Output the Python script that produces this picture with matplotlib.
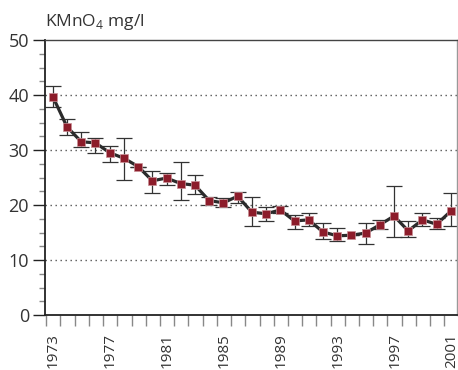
import numpy as np
import matplotlib as mpl
mpl.use('Agg')
import matplotlib.pyplot as plt
from matplotlib.ticker import MultipleLocator

plt.rcParams['font.family'] = ['Open Sans', 'DejaVu Sans']
plt.rcParams['mathtext.fontset'] = 'custom'
plt.rcParams['mathtext.rm'] = 'Open Sans'

# permanganate consumption, yearly means with ranges
years = list(range(1973, 2002))
values = [39.7, 34.2, 31.5, 31.3, 29.5, 28.5, 27.0, 24.4, 24.9, 23.9,
          23.6, 20.8, 20.4, 21.6, 18.7, 18.4, 19.1, 17.1, 17.3, 15.1,
          14.4, 14.5, 14.9, 16.4, 18.0, 15.3, 17.3, 16.5, 18.9]
upper = [41.6, 35.7, 33.3, 32.2, 30.8, 32.2, 27.0, 26.2, 25.8, 27.8,
         25.5, 21.5, 21.2, 22.4, 21.5, 19.7, 19.9, 18.1, 18.5, 16.7,
         15.8, 14.5, 16.8, 17.3, 23.5, 17.1, 18.5, 17.6, 22.2]
lower = [37.8, 32.7, 30.6, 29.5, 27.9, 24.5, 27.0, 22.1, 23.7, 21.0,
         22.0, 20.0, 19.6, 20.3, 16.2, 17.1, 18.5, 15.6, 16.1, 13.8,
         13.4, 14.5, 12.9, 15.6, 14.2, 14.1, 16.1, 15.6, 16.1]
label_years = [1973, 1977, 1981, 1985, 1989, 1993, 1997, 2001]

x = np.arange(len(years))
v = np.array(values)
yerr = [v - np.array(lower), np.array(upper) - v]

fig = plt.figure(figsize=(4.58, 3.70), dpi=100)
ax = fig.add_axes([45 / 458, 1 - 315 / 370, 412 / 458, 275 / 370])

for y in [10, 20, 30, 40]:
    ax.axhline(y, color='#555555', lw=1.0, ls=(0, (1, 2.6)), zorder=1)

ax.errorbar(x, v, yerr=yerr, fmt='none', ecolor='#333333', elinewidth=0.9,
            capsize=5.5, capthick=0.9, zorder=2)
ax.plot(x, v, color='#2b2b2b', lw=2.3, zorder=3)
ax.plot(x, v, ls='none', marker='s', ms=6.2, mfc='#8c1c2a',
        mec='#c98f95', mew=0.5, zorder=4)

ax.set_ylim(0, 50)
ax.set_xlim(-0.55, len(years) - 0.57)

ax.yaxis.set_major_locator(MultipleLocator(10))
ax.yaxis.set_minor_locator(MultipleLocator(2.5))
ax.tick_params(axis='y', which='major', length=8.5, width=1.0, color='#222222',
               labelsize=13, pad=3, labelcolor='#333333')
ax.tick_params(axis='y', which='minor', length=4.2, width=1.0, color='#888888')

# category boundaries carry the ticks, year labels sit on the points
ax.set_xticks(np.arange(len(years)) - 0.46)
ax.set_xticklabels([])
ax.set_xticks([years.index(yr) + 0.05 for yr in label_years], minor=True)
ax.set_xticklabels([str(yr) for yr in label_years], minor=True, rotation=90,
                   fontsize=11, color='#333333')
ax.tick_params(axis='x', which='major', length=8, width=1.0, color='#888888',
               direction='out', pad=0)
ax.tick_params(axis='x', which='minor', length=0, pad=13)

for side in ['left', 'bottom']:
    ax.spines[side].set_color('#222222')
    ax.spines[side].set_linewidth(1.3)
ax.spines['top'].set_color('#444444')
ax.spines['top'].set_linewidth(1.0)
ax.spines['right'].set_color('#999999')
ax.spines['right'].set_linewidth(1.0)

fig.text(45 / 458, 1 - 26 / 370, r'KMnO$_\mathregular{4}$ mg/l',
         fontsize=12.5, color='#333333', va='baseline', ha='left')

fig.savefig('out.png', dpi=100)
